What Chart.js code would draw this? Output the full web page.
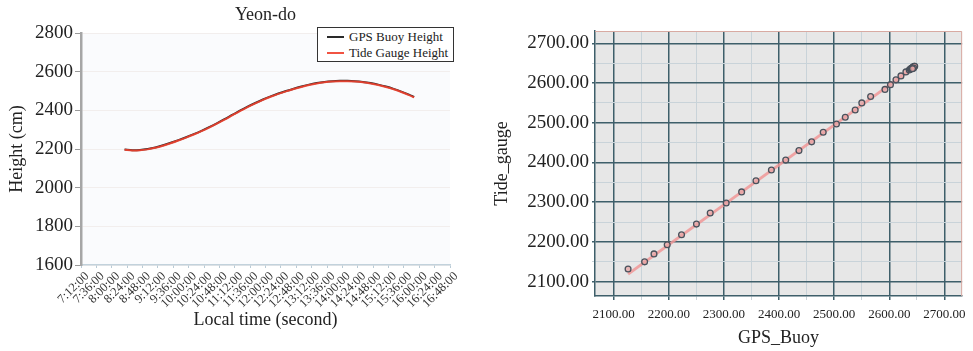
<!DOCTYPE html>
<html><head><meta charset="utf-8">
<script src="https://cdn.jsdelivr.net/npm/chart.js@4.4.1/dist/chart.umd.min.js"></script>
<style>
html,body{margin:0;padding:0;background:#fff;width:973px;height:351px;overflow:hidden;}
#c1{position:absolute;left:0;top:0;}
#c2{position:absolute;left:480px;top:0;}
#legend{position:absolute;left:317px;top:27px;width:135px;height:33px;border:1.5px solid #333;background:#fff;font-family:"Liberation Serif","Times New Roman",serif;font-size:13px;color:#222;}
#legend .row{position:absolute;left:9px;height:16px;line-height:16px;white-space:nowrap;}
#legend .sw{display:inline-block;width:17px;height:2px;vertical-align:middle;margin-right:5px;position:relative;top:-1px;}
</style></head><body>
<canvas id="c1" width="480" height="351"></canvas>
<canvas id="c2" width="493" height="351"></canvas>
<div id="legend"></div>
<script>
// ---------- data: left chart (time series) ----------
const timeTicks = ['7:12:00','7:36:00','8:00:00','8:24:00','8:48:00','9:12:00','9:36:00','10:00:00','10:24:00','10:48:00','11:12:00','11:36:00','12:00:00','12:24:00','12:48:00','13:12:00','13:36:00','14:00:00','14:24:00','14:48:00','15:12:00','15:36:00','16:00:00','16:24:00','16:48:00'];
const heightTicks = [1600,1800,2000,2200,2400,2600,2800];
const times = ['8:20','8:32','8:44','8:56','9:08','9:20','9:32','9:44','9:56','10:08','10:20','10:32','10:44','10:56','11:08','11:20','11:32','11:44','11:56','12:08','12:20','12:32','12:44','12:56','13:08','13:20','13:32','13:44','13:56','14:08','14:20','14:32','14:44','14:56','15:08','15:20','15:32','15:44','15:52'];
const gpsBuoyHeight = [2198,2194,2195,2200,2208,2219,2232,2246,2261,2277,2294,2313,2333,2354,2376,2398,2419,2438,2456,2472,2487,2500,2512,2523,2533,2541,2547,2551,2553,2553,2551,2547,2541,2533,2523,2511,2497,2481,2469];
const tideGaugeHeight = [2196,2192,2193,2198,2206,2217,2230,2244,2259,2275,2292,2311,2331,2352,2374,2396,2417,2436,2454,2470,2485,2498,2510,2521,2531,2539,2545,2549,2551,2551,2549,2545,2539,2531,2521,2509,2495,2479,2467];

// ---------- data: right chart (scatter) ----------
const scatterTicks = [2100,2200,2300,2400,2500,2600,2700];
const gpsBuoy = [2126,2156,2173,2197,2223,2250,2275,2304,2332,2358,2386,2412,2436,2459,2480,2504,2520,2538,2550,2566,2592,2602,2612,2621,2630,2636,2638,2639,2640,2641,2642,2643,2644,2645,2646,2644,2642];
const tideGauge = [2132,2150,2170,2193,2218,2245,2273,2298,2326,2354,2381,2406,2430,2452,2476,2497,2514,2532,2550,2566,2584,2596,2608,2618,2628,2633,2635,2636,2637,2638,2639,2640,2641,2642,2642,2638,2636];
const fitX = [2126,2645];
const fitY = [2119,2640];

// ---------- helpers ----------
const toMin = s => { const p = s.split(':').map(Number); return p[0]*60 + p[1]; };
const SERIF = "'Liberation Serif','Times New Roman',serif";
Chart.defaults.font.family = SERIF;
Chart.defaults.color = '#222';

const bgPlugin = {
  id: 'bg',
  beforeDraw(c, a, o) {
    const {ctx, chartArea: {left, top, width, height}} = c;
    ctx.save(); ctx.fillStyle = o.color; ctx.fillRect(left, top, width, height); ctx.restore();
  }
};
const framePlugin = {
  id: 'frame',
  beforeDatasetsDraw(c, a, o) {
    if (!o.color) return;
    const {ctx, chartArea: {left, top, right, bottom}} = c;
    ctx.save(); ctx.strokeStyle = o.color; ctx.lineWidth = 1;
    ctx.beginPath(); ctx.moveTo(left, top + 0.5); ctx.lineTo(right - 0.5, top + 0.5); ctx.lineTo(right - 0.5, bottom); ctx.stroke();
    ctx.restore();
  }
};

// ---------- left chart ----------
const ds1 = [
  {label: 'GPS Buoy Height', data: times.map((t, i) => ({x: toMin(t), y: gpsBuoyHeight[i]})), borderColor: '#2a2a2a', borderWidth: 2, order: 1},
  {label: 'Tide Gauge Height', data: times.map((t, i) => ({x: toMin(t), y: tideGaugeHeight[i]})), borderColor: 'rgba(240,64,46,0.9)', borderWidth: 2, order: 0}
];
new Chart(document.getElementById('c1'), {
  type: 'line',
  data: {datasets: ds1.map(d => Object.assign(d, {pointRadius: 0, cubicInterpolationMode: 'monotone', fill: false}))},
  plugins: [bgPlugin],
  options: {
    responsive: false, animation: false,
    layout: {padding: {left: 0, right: 30, top: 0, bottom: 0}},
    plugins: {
      legend: {display: false},
      tooltip: {enabled: false},
      bg: {color: '#fafbfd'},
      title: {display: true, text: 'Yeon-do', fullSize: false, color: '#222',
        font: {size: 18, family: SERIF, weight: 'normal'}, padding: {top: 4, bottom: 7.4}}
    },
    scales: {
      x: {
        type: 'linear',
        min: toMin(timeTicks[0]), max: toMin(timeTicks[timeTicks.length - 1]),
        afterBuildTicks: s => { s.ticks = timeTicks.map(t => ({value: toMin(t)})); },
        afterFit: s => { s.height = 86; },
        ticks: {autoSkip: false, minRotation: 45, maxRotation: 45, padding: 1, labelOffset: 6,
          callback: (v, i) => timeTicks[i], font: {size: 12.5, family: SERIF}, color: '#333'},
        grid: {display: true, drawOnChartArea: false, drawTicks: true, tickLength: 3, tickColor: '#b9cbd6'},
        border: {color: '#c2d2dc', width: 1.5},
        title: {display: true, text: 'Local time (second)', font: {size: 18, family: SERIF}, color: '#222', padding: {top: 0, bottom: 20}}
      },
      y: {
        min: heightTicks[0], max: heightTicks[heightTicks.length - 1],
        afterBuildTicks: s => { s.ticks = heightTicks.map(v => ({value: v})); },
        afterFit: s => { s.width = 81; },
        ticks: {padding: 2, font: {size: 19, family: SERIF}, color: '#222', callback: v => String(v)},
        grid: {color: 'rgba(200,170,150,0.15)', lineWidth: 1, tickLength: 6, tickColor: '#9a9a9a'},
        border: {color: '#a6a6a6', width: 2.5},
        title: {display: true, text: 'Height (cm)', font: {size: 18, family: SERIF}, color: '#222', padding: {top: 6, bottom: 0}}
      }
    }
  }
});

// HTML legend built from the datasets
const lg = document.getElementById('legend');
ds1.forEach((d, i) => {
  const r = document.createElement('div');
  r.className = 'row'; r.style.top = (i * 16.5 + 0.5) + 'px';
  const sw = document.createElement('span'); sw.className = 'sw'; sw.style.background = d.borderColor;
  r.appendChild(sw); r.appendChild(document.createTextNode(d.label));
  lg.appendChild(r);
});

// ---------- right chart ----------
const gridVals = [];
scatterTicks.forEach(v => { gridVals.push(v); if (v < scatterTicks[scatterTicks.length - 1]) gridVals.push(v + (scatterTicks[1] - scatterTicks[0]) / 2); });
const isMajor = v => scatterTicks.includes(v);
const gridColor = c => isMajor(c.tick.value) ? '#3e5f6a' : '#c9d3d9';
const gridWidth = c => isMajor(c.tick.value) ? 1.5 : 1;

new Chart(document.getElementById('c2'), {
  type: 'scatter',
  data: {datasets: [
    {type: 'line', label: 'fit', data: fitX.map((x, i) => ({x, y: fitY[i]})), borderColor: 'rgba(240,150,150,0.85)', borderWidth: 3, pointRadius: 0, order: 2},
    {label: 'points', data: gpsBuoy.map((x, i) => ({x, y: tideGauge[i]})), pointRadius: 2.9, pointBorderWidth: 1.3,
      borderColor: '#4a525c', backgroundColor: 'rgba(232,165,165,0.75)', order: 1}
  ]},
  plugins: [bgPlugin, framePlugin],
  options: {
    responsive: false, animation: false,
    layout: {padding: {left: 0, right: 8, top: 31, bottom: 0}},
    plugins: {legend: {display: false}, tooltip: {enabled: false}, bg: {color: '#e7e7e7'}, frame: {color: '#d8aaa2'}},
    scales: {
      x: {
        type: 'linear', min: 2066, max: 2732,
        afterBuildTicks: s => { s.ticks = gridVals.map(v => ({value: v})); },
        afterFit: s => { s.height = 55; },
        ticks: {autoSkip: false, maxRotation: 0, padding: 7, font: {size: 13, family: SERIF}, color: '#222',
          callback: v => isMajor(v) ? v.toFixed(2) : ''},
        grid: {color: gridColor, lineWidth: gridWidth, tickLength: 4, tickColor: gridColor},
        border: {color: '#3e5f6a', width: 1.5},
        title: {display: true, text: 'GPS_Buoy', font: {size: 18, family: SERIF}, color: '#222', padding: {top: 0, bottom: 2}}
      },
      y: {
        type: 'linear', min: 2064, max: 2731,
        afterBuildTicks: s => { s.ticks = gridVals.map(v => ({value: v})); },
        afterFit: s => { s.width = 115; },
        ticks: {autoSkip: false, padding: 3, font: {size: 19, family: SERIF}, color: '#222',
          callback: v => isMajor(v) ? v.toFixed(2) : ''},
        grid: {color: gridColor, lineWidth: gridWidth, tickLength: 3, tickColor: gridColor},
        border: {color: '#3e5f6a', width: 1.5},
        title: {display: true, text: 'Tide_gauge', font: {size: 18, family: SERIF}, color: '#222', padding: {top: 11, bottom: 0}}
      }
    }
  }
});
</script>
</body></html>
